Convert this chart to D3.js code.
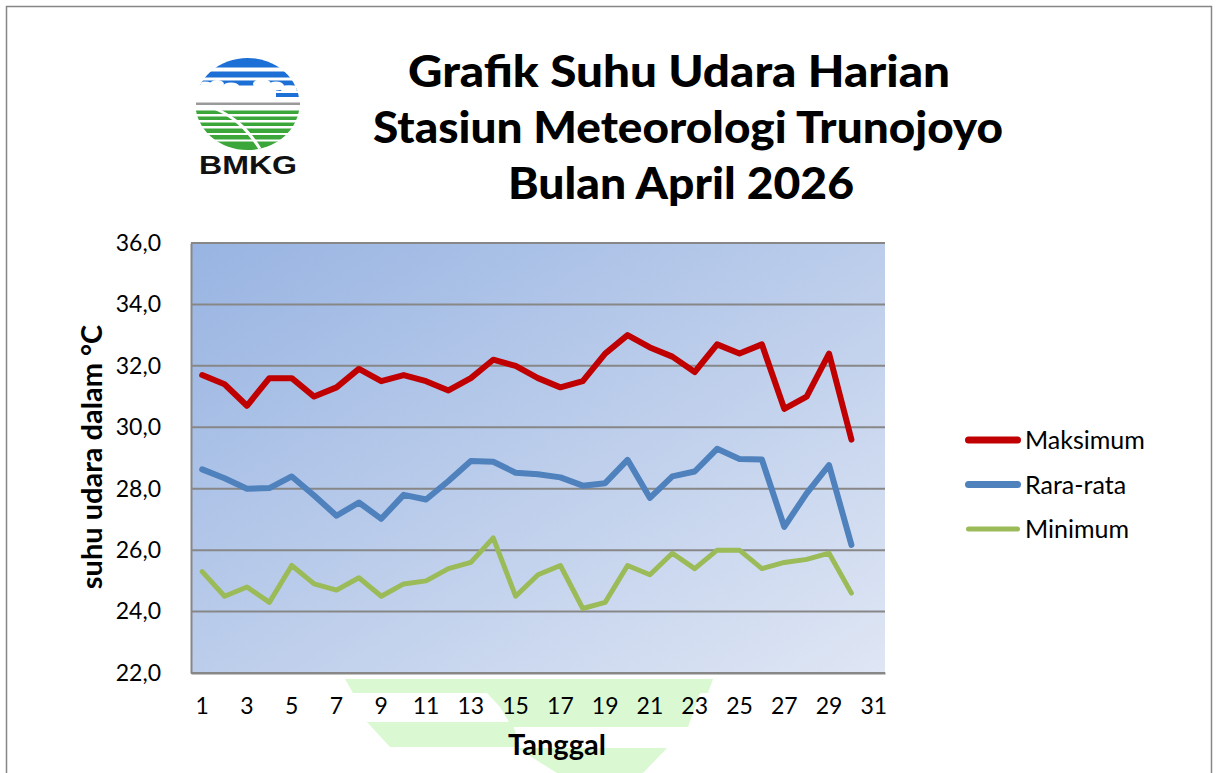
<!DOCTYPE html>
<html><head><meta charset="utf-8">
<script src="https://cdn.jsdelivr.net/npm/d3@7"></script>
<style>
html,body{margin:0;padding:0;background:#fff;}
svg{display:block;}
</style>
</head><body>
<svg id="chart" width="1218" height="773"></svg>
<script>
// ---- data ----
const days = d3.range(1, 32).map(String);          // categories 1..31
const tickDays = days.filter((d, i) => i % 2 === 0); // 1,3,...,31
const yTicks = [22, 24, 26, 28, 30, 32, 34, 36];
const maksimum = [31.7,31.4,30.7,31.6,31.6,31.0,31.3,31.9,31.5,31.7,31.5,31.2,31.6,32.2,32.0,31.6,31.3,31.5,32.4,33.0,32.6,32.3,31.8,32.7,32.4,32.7,30.6,31.0,32.4,29.6];
const rataRata = [28.63,28.34,28.0,28.02,28.4,27.78,27.12,27.55,27.02,27.8,27.65,28.25,28.9,28.88,28.52,28.47,28.37,28.1,28.18,28.94,27.7,28.4,28.56,29.3,28.97,28.95,26.76,27.85,28.77,26.17];
const minimum = [25.3,24.5,24.8,24.3,25.5,24.9,24.7,25.1,24.5,24.9,25.0,25.4,25.6,26.4,24.5,25.2,25.5,24.1,24.3,25.5,25.2,25.9,25.4,26.0,26.0,25.4,25.6,25.7,25.9,24.6];
const seriesNames = ["Maksimum", "Rara-rata", "Minimum"];
const seriesColors = ["#c00000", "#4f81bd", "#9bbb59"];
const titleLines = ["Grafik Suhu Udara Harian", "Stasiun Meteorologi Trunojoyo", "Bulan April 2026"];

const series = [maksimum, rataRata, minimum].map((vals, i) => ({
  name: seriesNames[i], color: seriesColors[i],
  width: i === 2 ? 5 : 6,
  values: vals.map((v, j) => ({day: days[j], v}))
}));

const FONT = "Lato, 'Open Sans', sans-serif";
const svg = d3.select("#chart");
const plot = {left: 191, top: 243, right: 885, bottom: 673};

// outer frame
svg.append("rect").attr("x", 6.5).attr("y", 6.5).attr("width", 1205).attr("height", 790)
  .attr("fill", "#fff").attr("stroke", "#868686").attr("stroke-width", 1.5);

// ---- watermark shapes under x axis ----
const wm = svg.append("g").attr("fill", "#daf8d2");
[
  [[345,679],[713,679],[708,693],[353,693]],
  [[487,693],[700,693],[688,727],[512,727],[500,707]],
  [[367,722],[512,722],[520,747],[390,747]],
  [[517,748],[667,748],[643,773],[557,773]]
].forEach(p => wm.append("polygon").attr("points", p.map(q => q.join(",")).join(" ")));

// ---- plot background ----
const defs = svg.append("defs");
const grad = defs.append("linearGradient").attr("id", "bg")
  .attr("x1", "0%").attr("y1", "0%").attr("x2", "100%").attr("y2", "100%");
grad.append("stop").attr("offset", "0%").attr("stop-color", "#98b4e2");
grad.append("stop").attr("offset", "100%").attr("stop-color", "#dfe6f4");
svg.append("rect").attr("x", plot.left).attr("y", plot.top)
  .attr("width", plot.right - plot.left).attr("height", plot.bottom - plot.top)
  .attr("fill", "url(#bg)");

// ---- scales ----
const x = d3.scaleBand().domain(days).range([plot.left, plot.right]).padding(0);
const y = d3.scaleLinear().domain([22, 36]).range([plot.bottom, plot.top]);
const cx = d => x(d) + x.bandwidth() / 2;

// gridlines
svg.append("g").selectAll("line").data(yTicks).join("line")
  .attr("x1", plot.left).attr("x2", plot.right)
  .attr("y1", d => y(d)).attr("y2", d => y(d))
  .attr("stroke", "#878787").attr("stroke-width", 2);

// y axis
const yAxis = svg.append("g").attr("transform", `translate(${plot.left},0)`)
  .call(d3.axisLeft(y).tickValues(yTicks).tickSize(0).tickPadding(30)
    .tickFormat(d => d3.format(".1f")(d).replace(".", ",")));
yAxis.select(".domain").attr("stroke", "#878787").attr("stroke-width", 2);
yAxis.selectAll("text").attr("font-family", FONT)
  .attr("font-size", 23).attr("fill", "#000");

// x axis
const xAxis = svg.append("g").attr("transform", `translate(0,${plot.bottom})`)
  .call(d3.axisBottom(x).tickValues(tickDays).tickSize(0).tickPadding(25));
xAxis.select(".domain").attr("stroke", "#878787").attr("stroke-width", 2);
xAxis.selectAll("text").attr("font-family", FONT)
  .attr("font-size", 23).attr("fill", "#000");

// axis titles
svg.append("text").attr("x", 557).attr("y", 755).attr("text-anchor", "middle")
  .attr("font-family", FONT).attr("font-weight", 700)
  .attr("font-size", 29).text("Tanggal");
svg.append("text").attr("transform", "translate(102,457) rotate(-90)")
  .attr("text-anchor", "middle")
  .attr("font-family", FONT).attr("font-weight", 700)
  .attr("font-size", 29).text("suhu udara dalam °C");

// ---- lines ----
const line = d3.line().x(d => cx(d.day)).y(d => y(d.v));
svg.append("g").selectAll("path").data(series).join("path")
  .attr("d", d => line(d.values)).attr("fill", "none")
  .attr("stroke", d => d.color).attr("stroke-width", d => d.width)
  .attr("stroke-linejoin", "round").attr("stroke-linecap", "round");

// ---- legend ----
const lg = svg.append("g").selectAll("g").data(series).join("g")
  .attr("transform", (d, i) => `translate(965,${440 + i * 44.5})`);
lg.append("line").attr("x1", 3.5).attr("x2", 52.5).attr("y1", 0).attr("y2", 0)
  .attr("stroke", d => d.color).attr("stroke-width", (d, i) => i === 2 ? 5 : 7)
  .attr("stroke-linecap", "round");
lg.append("text").attr("x", 60).attr("y", 0).attr("dy", "0.36em")
  .attr("font-family", FONT).attr("font-size", 25)
  .text(d => d.name);

// ---- title ----
const titleSpec = [
  {cx: 679, y: 87, w: 542},
  {cx: 688, y: 143, w: 630},
  {cx: 681, y: 199, w: 346}
];
svg.append("g").selectAll("text").data(titleLines).join("text")
  .attr("x", (d, i) => titleSpec[i].cx - titleSpec[i].w / 2)
  .attr("y", (d, i) => titleSpec[i].y)
  .attr("textLength", (d, i) => titleSpec[i].w)
  .attr("lengthAdjust", "spacingAndGlyphs")
  .attr("font-family", "'Comic Sans MS', Lato, sans-serif")
  .attr("font-weight", 900).attr("font-size", 44)
  .text(d => d);

// ---- BMKG logo ----
const logo = svg.append("g");
defs.append("clipPath").attr("id", "logoClip")
  .append("ellipse").attr("cx", 247.5).attr("cy", 104).attr("rx", 52).attr("ry", 46);
const lc = logo.append("g").attr("clip-path", "url(#logoClip)");
const blue = "#1c6fd4", green = "#3ba63a";
[[58, 9.5], [71.5, 6], [80.5, 5]].forEach(([yy, h]) =>
  lc.append("rect").attr("x", 190).attr("y", yy).attr("width", 120).attr("height", h).attr("fill", blue));
lc.append("rect").attr("x", 276).attr("y", 88).attr("width", 30).attr("height", 3).attr("fill", blue);
lc.append("rect").attr("x", 276).attr("y", 93).attr("width", 30).attr("height", 4).attr("fill", blue);
// clouds
[[205,85,8,3.5],[217,84,7,4],[231,86,8,3.5],[262,84,9,5],[276,86,8,4.5],[289,89,9,3.5]].forEach(([ex,ey,rx,ry]) =>
  lc.append("ellipse").attr("cx", ex).attr("cy", ey).attr("rx", rx).attr("ry", ry).attr("fill", "#fff"));
[[110.5,3.5],[116.5,3.5],[122.5,3.5],[128.5,4.5],[135,4.5],[141.5,9]].forEach(([yy, h]) =>
  lc.append("rect").attr("x", 190).attr("y", yy).attr("width", 120).attr("height", h).attr("fill", green));
lc.append("path").attr("d", "M214,108 C232,116 246,126 262,152").attr("stroke", "#fff")
  .attr("stroke-width", 3).attr("fill", "none");
logo.append("rect").attr("x", 196).attr("y", 102.5).attr("width", 104).attr("height", 2.5).attr("fill", "#9a9a9a");
logo.append("text").attr("x", 199).attr("y", 174).attr("textLength", 98)
  .attr("lengthAdjust", "spacingAndGlyphs")
  .attr("font-family", "'Liberation Sans', Arial, sans-serif").attr("font-weight", 700)
  .attr("font-size", 25).attr("fill", "#111").text("BMKG");
</script>
</body></html>
